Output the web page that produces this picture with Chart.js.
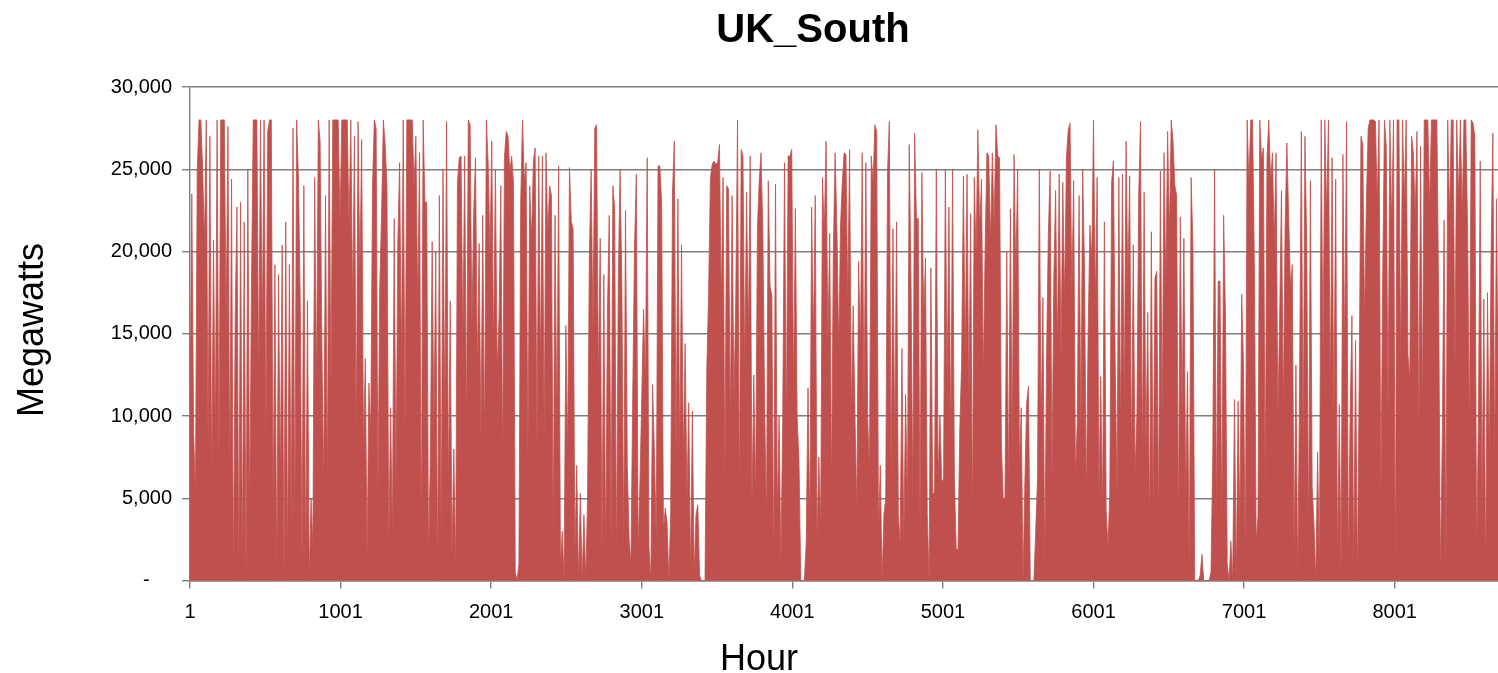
<!DOCTYPE html>
<html>
<head>
<meta charset="utf-8">
<script src="https://cdn.jsdelivr.net/npm/chart.js@4.4.1/dist/chart.umd.min.js"></script>
<style>
html,body{margin:0;padding:0;overflow:hidden;background:#ffffff;}
canvas{display:block;}
</style>
</head>
<body>
<canvas id="c" width="1512" height="673"></canvas>
<script>
// ---- chart text ----
const chartTitle = 'UK_South';
const xAxisTitle = 'Hour';
const yAxisTitle = 'Megawatts';

// ---- tick labels ----
const xTickLabels = [1, 1001, 2001, 3001, 4001, 5001, 6001, 7001, 8001];
const yTickValues = [0, 5000, 10000, 15000, 20000, 25000, 30000];

// ---- hour at which each month starts, sampling step (hours) ----
const monthStartHour = [1, 745, 1417, 2161, 2881, 3625, 4345, 5089, 5833, 6553, 7297, 8017];
const stepHours = 12;

// ---- values (MW), one every 12 hours ----
const jan = [10000,23500,9000,5300,25000,28000,28000,25000,20500,28000,8300,27000,5600,20700,8500,28000,7000,28000,28000,28000,15500,27600,6000,24400,0,16000,22700,0,23000,500,21800,0,25000,4000,17800,28000,28000,28000,11800,28000,15000,28000,8500,27300,28000,28000,4000,19200,0,18600,5700,20400,0,21800,1000,19200,3000,27500,2500,28000,24500,17000];
const feb = [1000,24000,500,17000,0,5000,2000,24500,11500,28000,26700,14000,5800,23400,5500,28000,11500,28000,28000,28000,28000,21800,28000,28000,28000,28000,21500,28000,16600,27000,8200,27900,18600,26800,8200,13500,1500,12000,8800,24000,28000,27500,5300,17800,22200,28000,26500,24000,2000,10500,2600,22000,5800,20500,25400,13000];
const mar = [28000,9000,28000,28000,28000,28000,24000,27000,16700,26000,2000,28000,23000,23000,1500,7500,20600,9400,20000,0,23400,2000,25000,9500,27900,5200,17000,1500,8000,500,24200,25700,25800,14500,25800,9000,28000,27700,15500,22400,25700,12700,20500,8600,22200,8000,28000,25400,19800,26700,13900,25000,12700,16000,24000,6900,25700,27300,27000,24800,25800,24200];
const apr = [500,0,1000,23000,28000,24200,25400,7400,24000,20700,25400,26300,8100,25800,12700,25800,8600,26000,21000,24000,23400,2100,22200,9200,25200,1000,3000,0,15500,7600,25100,21800,21400,1700,7000,0,5300,0,4000,0,5000,19800,25000,15200,27500,27700,12000,20800,1500,18600,1500,16300,22200,2300,24000,22600,1000,18200,25000,17800];
const may = [2000,22500,7000,2500,1000,11300,20400,24700,1800,6000,11200,16500,12000,25700,2000,0,11900,7800,2500,25200,25200,23000,3000,4400,3500,0,4100,23600,26700,7400,23200,7300,20400,7300,14400,5000,10800,300,10300,300,4000,4600,300,0,0,0,12900,17500,24500,25300,25500,25300,25400,26500,17000,24500,6300,24000,23800,9000,23400,10900];
const jun = [17000,28000,4300,26200,25800,12700,23600,14700,25800,4500,12500,5000,21400,24300,26000,21300,10700,3500,24300,17900,17300,500,24100,4000,10000,1000,9900,25400,9000,25800,25800,26200,11500,22600,9900,7300,0,0,0,2300,11700,3000,22700,14500,23400,2400,7500,3200,24500,21200,26700,14500,21100,5700,19900,26000,21400,14100,21600,24300];
const jul = [26000,25900,17000,26200,10000,16700,10000,4200,19400,14000,26000,10000,25400,10000,6600,25800,24200,27700,27300,2900,7000,0,4000,5000,24800,27900,6000,21400,8000,21800,4000,2200,14100,2200,11300,4400,26500,18200,4800,27200,22000,22000,2800,24800,16000,19600,4000,0,19000,5300,5300,25000,6100,10000,6100,6100,25000,11800,22700,7900,25000,6300];
const aug = [1900,1900,9300,13200,24600,13600,24700,10700,22300,3400,24500,19800,27400,21400,24400,12400,20100,26000,25800,20600,26000,21600,27700,25800,25700,8400,5000,5000,20000,5100,22600,8000,25900,18600,25000,7000,10500,0,6000,10800,11800,0,0,0,3000,6200,25000,9400,17200,700,13600,21100,24900,6000,18200,23700,14000,24700,13500,24200,17000,25700];
const sep = [27400,27800,17400,24300,6200,9600,23400,9000,25000,19000,4800,15000,21600,19400,28000,16900,24500,5200,12400,4000,21800,4200,2100,5300,24200,25500,13300,5200,24500,8900,24700,10500,26700,18100,24600,6900,20400,6500,10000,23400,27900,6800,23600,8000,16300,3000,21200,4500,18400,18800,3100,24900,9400,26000,18000,27300,21100,28000,26700,24000];
const oct = [23400,3000,22100,10000,20800,5000,12700,0,24500,20400,0,0,0,300,1600,0,0,0,0,500,7700,25000,4000,18200,18200,3100,22200,16200,1000,0,2400,0,11000,0,10900,3300,17400,13100,1100,28000,24200,28000,28000,19200,2400,3900,28000,25600,26300,5200,25700,28000,24200,26000,20600,26000,10000,16000,23700,10200,21400,26600];
const nov = [22000,17800,19200,1500,13100,0,11600,27300,8000,27000,20200,2300,24300,5700,3400,0,7800,500,28000,13500,28000,22200,28000,10600,25700,9600,24400,1000,10700,300,25900,13700,27900,1000,10000,16100,500,14600,0,12000,27000,26500,15700,23100,27500,28000,28000,28000,27900,23000,28000,5000,18200,28000,26400,10000,28000,21600,28000,0];
const dec = [28000,28000,12900,28000,23000,28000,13700,12300,27000,26000,22200,27300,8400,26400,10200,28000,28000,28000,22700,28000,28000,28000,28000,17000,300,8800,21900,500,28000,22000,28000,28000,12700,28000,23200,28000,22200,28000,28000,21400,8800,28000,27800,27000,1500,10000,25500,4400,17100,300,17500,7400,19900,27200,7000,23200,10000,24000,6000,26000,12000,22000];

const monthValues = [jan, feb, mar, apr, may, jun, jul, aug, sep, oct, nov, dec];
const points = [];
monthValues.forEach((vals, m) => {
  vals.forEach((v, i) => points.push({ x: monthStartHour[m] + i * stepHours, y: v }));
});

const FONT = '"Liberation Sans", Arial, sans-serif';
const GRID = '#7f7f7f';

const textPlugin = {
  id: 'chartTexts',
  afterDraw(chart) {
    const ctx = chart.ctx;
    ctx.save();
    ctx.fillStyle = '#000000';
    ctx.textAlign = 'center';
    ctx.textBaseline = 'alphabetic';
    ctx.font = 'bold 40px ' + FONT;
    ctx.fillText(chartTitle, 813, 42);
    ctx.font = '36px ' + FONT;
    ctx.fillText(xAxisTitle, 759, 670);
    ctx.translate(43, 330);
    ctx.rotate(-Math.PI / 2);
    ctx.fillText(yAxisTitle, 0, 0);
    ctx.restore();
  }
};

new Chart(document.getElementById('c'), {
  type: 'line',
  data: {
    datasets: [{
      data: points,
      borderColor: '#C0504D',
      backgroundColor: '#C0504D',
      borderWidth: 0.8,
      borderJoinStyle: 'bevel',
      fill: 'origin',
      pointRadius: 0,
      tension: 0
    }]
  },
  options: {
    responsive: false,
    animation: false,
    devicePixelRatio: 1,
    layout: { padding: { top: 87, right: 3, bottom: 0, left: 0 } },
    plugins: { legend: { display: false }, tooltip: { enabled: false }, title: { display: false } },
    scales: {
      x: {
        type: 'linear',
        min: 1,
        max: 8760,
        afterBuildTicks: s => { s.ticks = xTickLabels.map(v => ({ value: v })); },
        afterFit: s => { s.height = 92.5; },
        ticks: {
          callback: v => String(v),
          font: { size: 20, family: FONT },
          color: '#000000',
          padding: 12,
          maxRotation: 0,
          autoSkip: false
        },
        grid: { drawOnChartArea: false, drawTicks: true, tickLength: 8, color: GRID, lineWidth: 1.4 },
        border: { color: GRID, width: 1.4 }
      },
      y: {
        min: 0,
        max: 30000,
        afterBuildTicks: s => { s.ticks = yTickValues.map(v => ({ value: v })); },
        afterFit: s => { s.width = 190; },
        ticks: {
          callback: v => (v === 0 ? '-    ' : v.toLocaleString('en-US')),
          font: { size: 20, family: FONT },
          color: '#000000',
          padding: 10
        },
        grid: { color: GRID, lineWidth: 1.4, drawTicks: true, tickLength: 8 },
        border: { color: GRID, width: 1.4 }
      }
    }
  },
  plugins: [textPlugin]
});
</script>
</body>
</html>
